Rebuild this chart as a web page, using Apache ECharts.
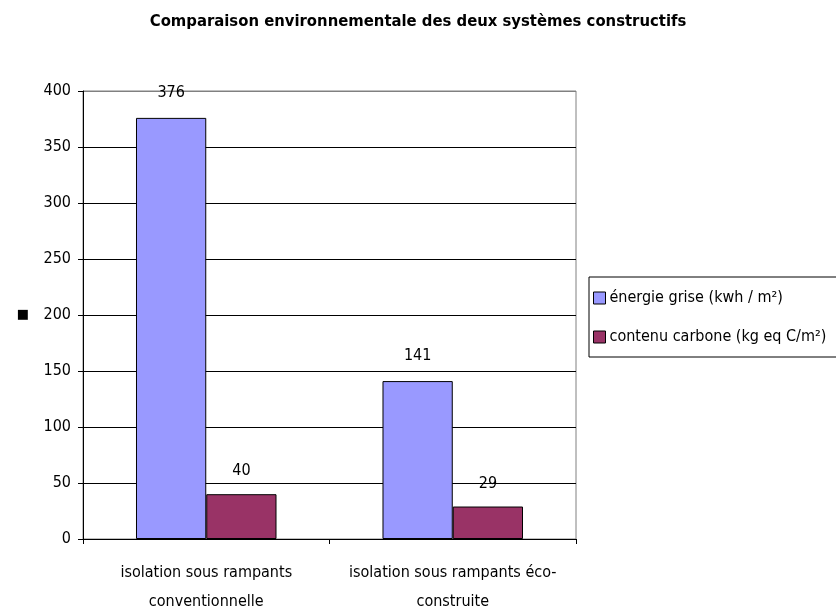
<!DOCTYPE html>
<html>
<head>
<meta charset="utf-8">
<script src="https://cdn.jsdelivr.net/npm/echarts@6/dist/echarts.min.js"></script>
<style>
  html, body { margin: 0; padding: 0; background: #fff; }
  #chart { width: 836px; height: 616px; }
</style>
</head>
<body>
<div id="chart"></div>
<script>
// données
var categories = ['isolation sous rampants\nconventionnelle', 'isolation sous rampants éco-\nconstruite'];
var energieGrise = [376, 141];
var contenuCarbone = [40, 29];
var seriesNames = ['énergie grise (kwh / m²)', 'contenu carbone (kg eq C/m²)'];

var font = "'Liberation Sans Narrow', 'DejaVu Sans Condensed', Arial, sans-serif";

var myChart = echarts.init(document.getElementById('chart'));

var option = {
    animation: false,
    backgroundColor: '#fff',
    title: {
        text: 'Comparaison environnementale des deux systèmes constructifs',
        left: 'center',
        top: 8,
        textStyle: { fontFamily: font, fontSize: 16.5, fontWeight: 'bold', color: '#000' }
    },
    legend: {
        orient: 'vertical',
        left: 589,
        top: 277,
        padding: [13, 40, 12, 4],
        itemGap: 23,
        itemWidth: 12,
        itemHeight: 12,
        icon: 'rect',
        borderColor: '#000',
        borderWidth: 1,
        itemStyle: { borderColor: '#000', borderWidth: 1 },
        textStyle: { fontFamily: font, fontSize: 16, color: '#000', padding: [0, 0, 0, -1] },
        data: seriesNames
    },
    grid: {
        left: 83,
        right: 260,
        top: 91,
        bottom: 76,
        show: true,
        borderColor: '#808080',
        borderWidth: 1
    },
    xAxis: {
        type: 'category',
        data: categories,
        axisLine: { lineStyle: { color: '#000', width: 1 } },
        axisTick: { show: true, length: 5, lineStyle: { color: '#000' } },
        axisLabel: {
            color: '#000',
            fontFamily: font,
            fontSize: 16,
            lineHeight: 29,
            margin: 19,
            interval: 0
        }
    },
    yAxis: {
        type: 'value',
        min: 0,
        max: 400,
        interval: 50,
        name: '■',
        nameLocation: 'middle',
        nameRotate: 0,
        nameGap: 54,
        nameTextStyle: { color: '#000', fontSize: 13, fontFamily: 'DejaVu Sans', padding: [0, 0, 6, 0] },
        axisLine: { show: true, lineStyle: { color: '#000', width: 1 } },
        axisTick: { show: true, length: 5, lineStyle: { color: '#000' } },
        axisLabel: { color: '#000', fontFamily: font, fontSize: 16, margin: 12 },
        splitLine: {
            show: true,
            lineStyle: {
                color: ['#000', '#000', '#000', '#000', '#000', '#000', '#000', '#000', '#808080'],
                width: 1
            }
        }
    },
    series: [
        {
            name: seriesNames[0],
            type: 'bar',
            data: energieGrise,
            barGap: '0%',
            barCategoryGap: '43%',
            itemStyle: { color: '#9999ff', borderColor: '#000', borderWidth: 1 },
            label: {
                show: true, position: 'top', distance: 17,
                color: '#000', fontFamily: font, fontSize: 16
            }
        },
        {
            name: seriesNames[1],
            type: 'bar',
            data: contenuCarbone,
            itemStyle: { color: '#993366', borderColor: '#000', borderWidth: 1 },
            label: {
                show: true, position: 'top', distance: 15,
                color: '#000', fontFamily: font, fontSize: 16
            }
        }
    ]
};

myChart.setOption(option);
</script>
</body>
</html>
